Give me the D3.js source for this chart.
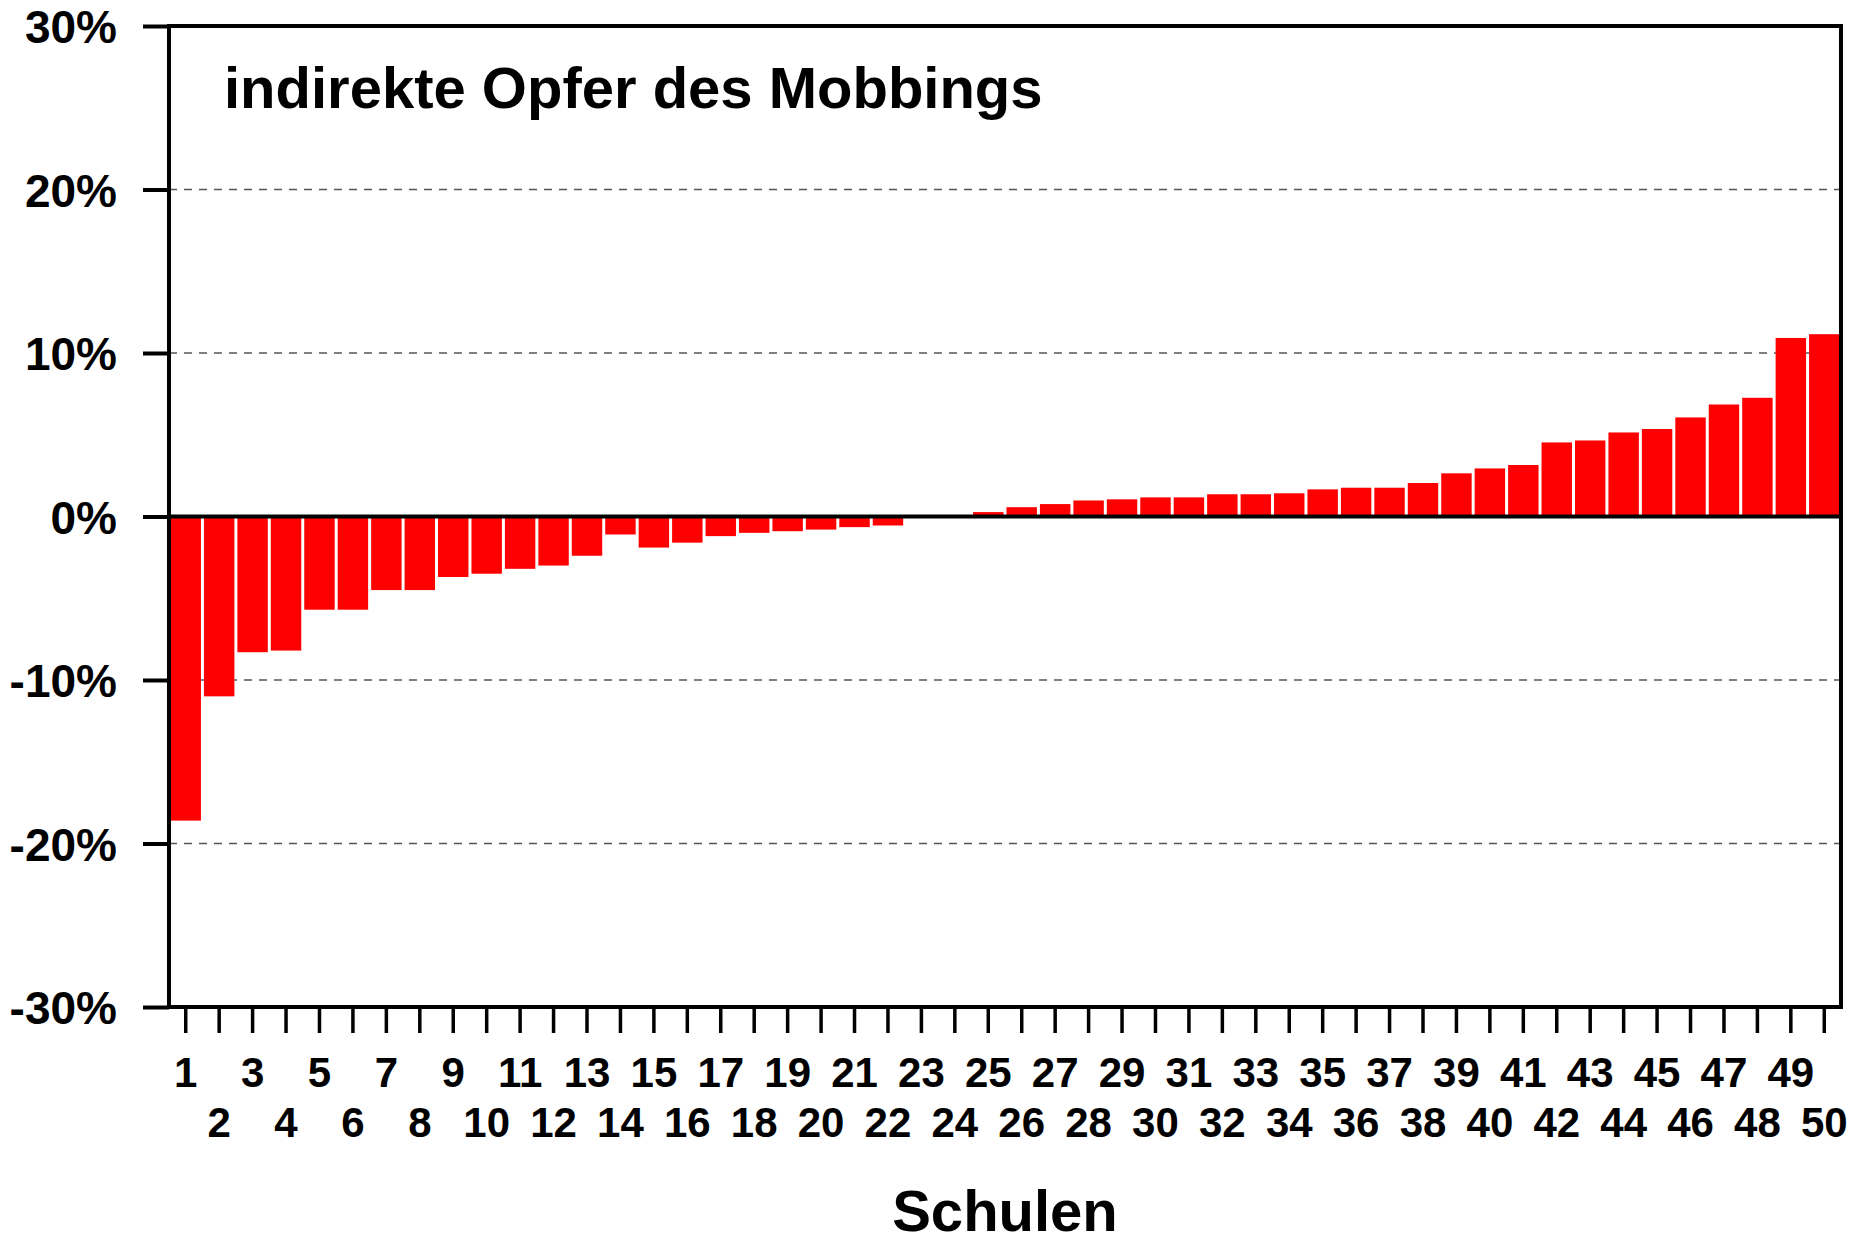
<!DOCTYPE html>
<html>
<head>
<meta charset="utf-8">
<script src="https://cdn.jsdelivr.net/npm/d3@7"></script>
<style>
  body { margin: 0; background: #fff; }
  text { font-family: "Liberation Sans", Arial, sans-serif; font-weight: bold; }
</style>
</head>
<body>
<div id="chart"></div>
<script>
// data
var schulen = d3.range(1, 51);
var werte = [-18.6, -11.0, -8.3, -8.2, -5.7, -5.7, -4.5, -4.5, -3.7, -3.5,
             -3.2, -3.0, -2.4, -1.1, -1.9, -1.6, -1.2, -1.0, -0.9, -0.8,
             -0.65, -0.55, 0, 0, 0.27, 0.57, 0.76, 0.98, 1.05, 1.17,
             1.17, 1.36, 1.36, 1.42, 1.66, 1.76, 1.76, 2.05, 2.64, 2.94,
             3.15, 4.53, 4.65, 5.14, 5.35, 6.06, 6.85, 7.26, 10.92, 11.15];
var yTicks = [-30, -20, -10, 0, 10, 20, 30];
var gridTicks = [-20, -10, 10, 20];
var titel = "indirekte Opfer des Mobbings";
var xTitel = "Schulen";

var svg = d3.select("#chart").append("svg")
  .attr("width", 1850)
  .attr("height", 1244);

var margin = {top: 26, right: 9, bottom: 237, left: 169},
    width = 1850 - margin.left - margin.right,
    height = 1244 - margin.top - margin.bottom;

var g = svg.append("g").attr("transform", "translate(" + margin.left + "," + margin.top + ")");

var x = d3.scaleBand()
  .domain(schulen)
  .range([0, width])
  .paddingInner(0.09)
  .paddingOuter(0.045);

var xTick = d3.scaleBand().domain(schulen).range([0, width]);

var y = d3.scaleLinear()
  .domain([-30, 30])
  .range([height, 0]);

// dashed gridlines
g.append("g")
  .selectAll("line")
  .data(gridTicks)
  .enter().append("line")
    .attr("x1", 0)
    .attr("x2", width)
    .attr("y1", function(d) { return y(d); })
    .attr("y2", function(d) { return y(d); })
    .attr("stroke", "#555")
    .attr("stroke-width", 1.5)
    .attr("stroke-dasharray", "8,7");

// bars
g.append("g")
  .selectAll("rect")
  .data(werte)
  .enter().append("rect")
    .attr("x", function(d, i) { return x(schulen[i]); })
    .attr("width", x.bandwidth())
    .attr("y", function(d) { return y(Math.max(0, d)); })
    .attr("height", function(d) { return Math.abs(y(d) - y(0)); })
    .attr("fill", "#ff0000");

// zero line
g.append("line")
  .attr("x1", 0)
  .attr("x2", width)
  .attr("y1", y(0))
  .attr("y2", y(0))
  .attr("stroke", "#000")
  .attr("stroke-width", 4);

// frame
g.append("rect")
  .attr("x", 0)
  .attr("y", 0)
  .attr("width", width)
  .attr("height", height)
  .attr("fill", "none")
  .attr("stroke", "#000")
  .attr("stroke-width", 4);

// y axis
var yAxis = g.append("g")
  .call(d3.axisLeft(y)
    .tickValues(yTicks)
    .tickSize(26)
    .tickPadding(26)
    .tickFormat(function(d) { return d + "%"; }));
yAxis.select(".domain").remove();
yAxis.selectAll(".tick line").attr("stroke", "#000").attr("stroke-width", 4);
yAxis.selectAll(".tick text")
  .attr("font-size", 46)
  .attr("fill", "#000")
  .attr("dy", "0.36em");

// x axis
var xAxis = g.append("g")
  .attr("transform", "translate(0," + height + ")")
  .call(d3.axisBottom(xTick).tickSize(26).tickPadding(0));
xAxis.select(".domain").remove();
xAxis.selectAll(".tick line").attr("stroke", "#000").attr("stroke-width", 3.5);
xAxis.selectAll(".tick text")
  .attr("font-size", 42)
  .attr("fill", "#000")
  .attr("dy", null)
  .attr("y", function(d) { return d % 2 === 1 ? 80 : 130; });

// title inside the plot
g.append("text")
  .attr("x", 55)
  .attr("y", 82)
  .attr("font-size", 58)
  .attr("fill", "#000")
  .text(titel);

// axis title
g.append("text")
  .attr("x", width / 2)
  .attr("y", height + 224)
  .attr("text-anchor", "middle")
  .attr("font-size", 58)
  .attr("fill", "#000")
  .text(xTitel);
</script>
</body>
</html>
